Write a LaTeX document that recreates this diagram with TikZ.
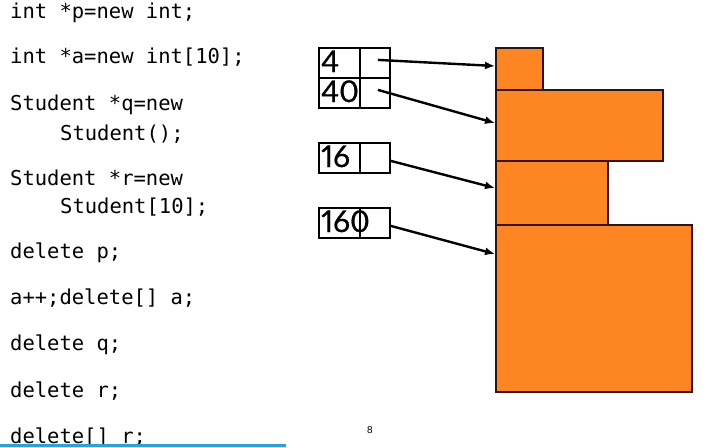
\documentclass[tikz,border=0pt]{standalone}
\usepackage{fontspec}
\setmonofont{DejaVu Sans Mono}
\newfontfamily\numfont[Numbers=Proportional,FakeBold=0.6]{Lato}
\setsansfont{Liberation Sans}
\usetikzlibrary{arrows.meta}
\definecolor{blockorange}{RGB}{253,133,34}
\definecolor{blockedge}{RGB}{50,20,10}
\definecolor{slideblue}{RGB}{40,160,225}
\begin{document}
\begin{tikzpicture}[x=1pt,y=-1pt,
  code/.style={anchor=base west,inner sep=0pt,font=\ttfamily\fontsize{20.5}{24}\selectfont},
  cell/.style={draw,line width=1.8pt,minimum height=30pt,inner sep=0pt,anchor=north west},
  numtext/.style={anchor=base west,inner sep=0pt,font=\numfont\fontsize{30}{32}\selectfont},
  block/.style={draw=blockedge,fill=blockorange,line width=1.5pt,inner sep=0pt,anchor=north west},
  ptr/.style={line width=2.4pt,-{Latex[length=10pt,width=8pt]}}]
\useasboundingbox (0,0) rectangle (714,447);
% code
\node[code] (c1) at (10,18) {int *p=new int;};
\node[code] (c2) at (10,63) {int *a=new int[10];};
\node[code] (c3) at (10,110) {Student *q=new};
\node[code] (c4) at (60,140) {Student();};
\node[code] (c5) at (10,185) {Student *r=new};
\node[code] (c6) at (60,213) {Student[10];};
\node[code] (c7) at (10,258) {delete p;};
\node[code] (c8) at (10,304) {a++;delete[] a;};
\node[code] (c9) at (10,350) {delete q;};
\node[code] (c10) at (10,397) {delete r;};
\node[code] (c11) at (10,443) {delete[] r;};
\draw[slideblue,line width=3pt] (0,445.5) -- (286,445.5);
% blocks
\node[block,minimum width=47pt,minimum height=42pt] (b1) at (495,47) {};
\node[block,minimum width=167pt,minimum height=71pt] (b2) at (495,89) {};
\node[block,minimum width=112pt,minimum height=64pt] (b3) at (495,160) {};
\node[block,minimum width=196pt,minimum height=167pt] (b4) at (495,224) {};
% pointer cells
\node[cell,minimum width=41pt] (l1) at (318,47) {};
\node[cell,minimum width=30pt] (r1) at (359,47) {};
\node[cell,minimum width=41pt] (l2) at (318,77) {};
\node[cell,minimum width=30pt] (r2) at (359,77) {};
\node[cell,minimum width=41pt] (l3) at (318,142) {};
\node[cell,minimum width=30pt] (r3) at (359,142) {};
\node[cell,minimum width=41pt] (l4) at (318,207) {};
\node[cell,minimum width=30pt] (r4) at (359,207) {};
\node[numtext] (n1) at (321,72) {4};
\node[numtext] (n2) at (321,102) {40};
\node[numtext] (n3) at (321,167) {16};
\node[numtext] (n4) at (321,232) {160};
% arrow targets
\coordinate (t1) at (495,66);
\coordinate (t2) at (495,123);
\coordinate (t3) at (495,188);
\coordinate (t4) at (495,254);
\coordinate (s1) at ([xshift=3pt,yshift=3pt]r1.center);
\coordinate (s2) at ([xshift=3pt,yshift=3pt]r2.center);
\coordinate (s3) at ([yshift=-3pt]r3.east);
\coordinate (s4) at ([yshift=-3pt]r4.east);
\draw[ptr] (s1) -- (t1);
\draw[ptr] (s2) -- (t2);
\draw[ptr] (s3) -- (t3);
\draw[ptr] (s4) -- (t4);
% page number
\node[font=\sffamily\fontsize{10}{11}\selectfont,inner sep=0pt] (pg) at (370,430) {8};
\end{tikzpicture}
\end{document}
